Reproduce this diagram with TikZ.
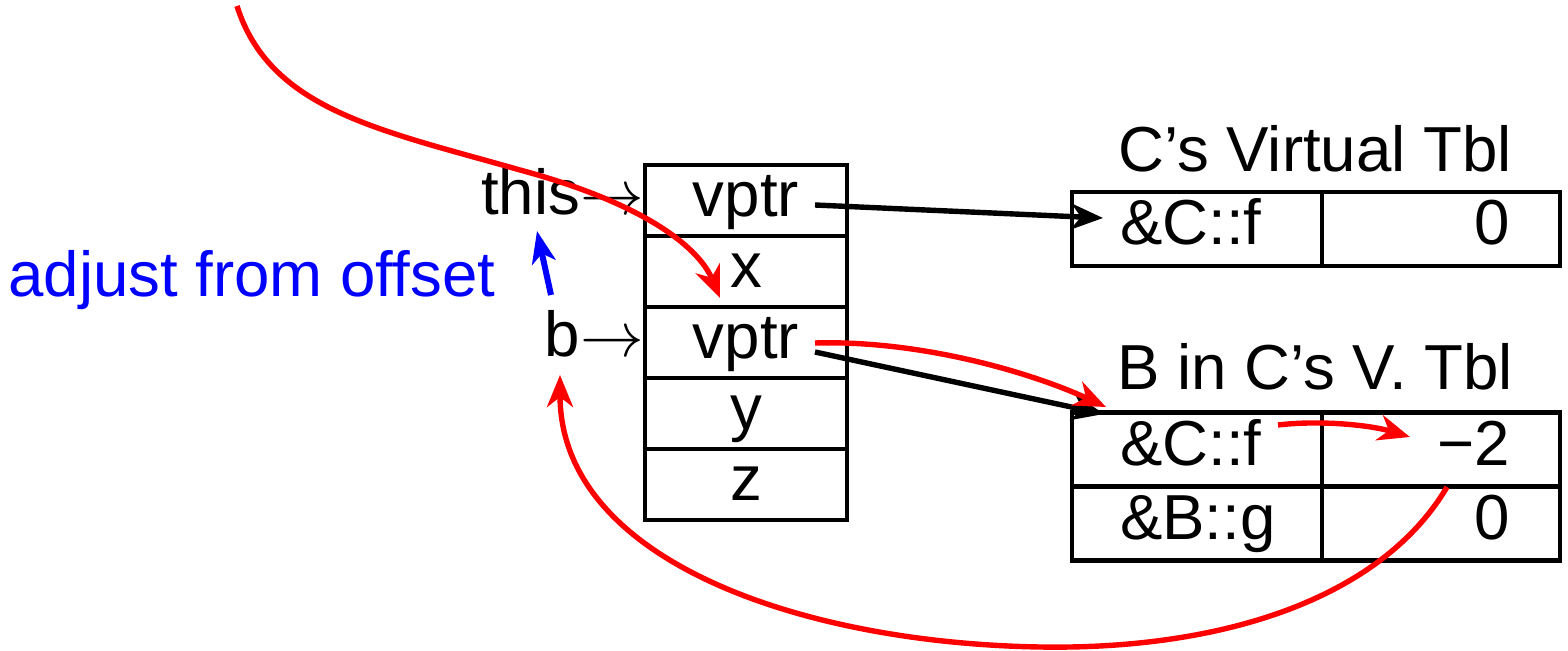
\documentclass[tikz,border=0pt]{standalone}
\usepackage{fontspec}
\setmainfont{Liberation Sans}
\DeclareFontShape{OMS}{cmsy}{m}{n}{<->cmsy10}{}
\usetikzlibrary{arrows.meta}
\definecolor{pure red}{RGB}{255,0,0}
\definecolor{pure blue}{RGB}{0,0,255}
\begin{document}
\begin{tikzpicture}[x=0.5pt,y=-0.5pt,
  font=\fontsize{31.8}{38}\selectfont,
  box/.style={draw, line width=2.2pt, inner sep=0pt, text height=22.5pt, text depth=6.6pt},
  stackcell/.style={box, minimum width=101pt, minimum height=35.5pt},
  lcell/.style={box, minimum width=125pt, minimum height=37pt, text width=77pt, align=left},
  rcell/.style={box, minimum width=119pt, minimum height=37pt, text width=69pt, align=right},
  plain/.style={inner sep=0pt},
  tipped/.style={line width=2.7pt, -{Stealth[length=16pt,width=13pt,inset=5pt]}},
  blk/.style={tipped, black},
  rd/.style={tipped, pure red},
  bl/.style={line width=3pt, pure blue, -{Stealth[length=16pt,width=12pt,inset=4.5pt]}}
]
\useasboundingbox (0,0) rectangle (1568,651);

% object layout
\node[stackcell] (s1) at (746,200.5) {vptr};
\node[stackcell] (s2) at (746,271.5) {x};
\node[stackcell] (s3) at (746,342.5) {vptr};
\node[stackcell] (s4) at (746,413.5) {y};
\node[stackcell] (s5) at (746,484.5) {z};

\node[plain, anchor=base east] (this) at (644,215) {this$\rightarrow$};
\node[plain, anchor=base east] (b) at (644,357) {b$\rightarrow$};
\node[plain, anchor=base west, text=pure blue] (adj) at (8,297) {adjust from offset};

% C's virtual table
\node[plain, anchor=base] (t1title) at (1315,172) {C’s Virtual Tbl};
\node[lcell] (t1a) at (1197,229) {\&C::f};
\node[rcell] (t1b) at (1441,229) {0};

% B in C's virtual table
\node[plain, anchor=base] (t2title) at (1315,390) {B in C’s V. Tbl};
\node[lcell] (t2a) at (1197,449.5) {\&C::f};
\node[rcell] (t2b) at (1441,449.5) {−2};
\node[lcell] (t3a) at (1197,523.5) {\&B::g};
\node[rcell] (t3b) at (1441,523.5) {0};

% connector end points
\coordinate (p1) at (815,205);
\coordinate (q1) at (1103,218);
\coordinate (p2) at (815,352);
\coordinate (q2) at (1104,414);
\coordinate (p3) at (815,343);
\coordinate (q3) at (1106,407);
\coordinate (top) at (237,6);
\coordinate (xin) at (720,298);
\coordinate (cf) at (1278,425);
\coordinate (m2) at (1410,437);
\coordinate (off) at (1447,487);
\coordinate (bin) at (560,375);
\coordinate (bu) at (551,295);
\coordinate (tu) at (537,231);

\draw[blk] (p1) -- (q1);
\draw[blk] (p2) -- (q2);
\draw[rd] (p3) .. controls (920,340) and (1030,372) .. (q3);
\draw[rd] (cf) .. controls (1320,420) and (1370,425) .. (m2);
\draw[rd] (top) .. controls (270,110) and (380,130) .. (520,170)
           .. controls (650,205) and (700,250) .. (xin);
\draw[rd] (off) .. controls (1380,600) and (1220,650) .. (1040,647)
           .. controls (800,643) and (560,560) .. (bin);
\draw[bl] (bu) -- (tu);
\end{tikzpicture}
\end{document}
